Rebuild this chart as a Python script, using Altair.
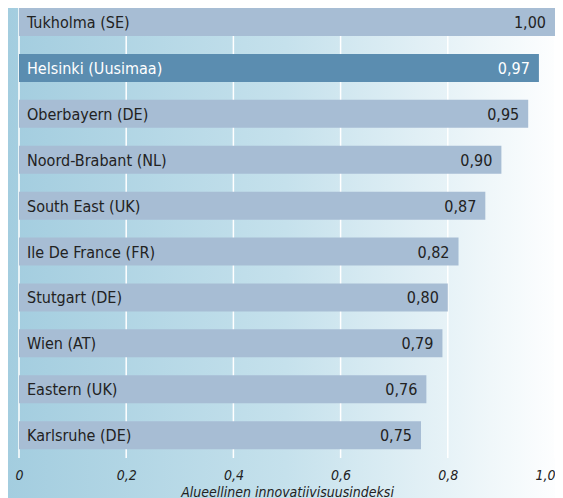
import altair as alt
import pandas as pd

regions = ["Tukholma (SE)", "Helsinki (Uusimaa)", "Oberbayern (DE)", "Noord-Brabant (NL)",
           "South East (UK)", "Ile De France (FR)", "Stutgart (DE)", "Wien (AT)",
           "Eastern (UK)", "Karlsruhe (DE)"]
values = [1.00, 0.97, 0.95, 0.90, 0.87, 0.82, 0.80, 0.79, 0.76, 0.75]
value_labels = ["1,00", "0,97", "0,95", "0,90", "0,87", "0,82", "0,80", "0,79", "0,76", "0,75"]
highlight = "Helsinki (Uusimaa)"
grid_ticks = [0, 0.2, 0.4, 0.6, 0.8, 1.0]
axis_title = "Alueellinen innovatiivisuusindeksi"

FONT = "DejaVu Sans Condensed, DejaVu Sans, sans-serif"
W, H = 536, 452

df = pd.DataFrame({
    "region": regions,
    "value": values,
    "label": value_labels,
    "hl": [r == highlight for r in regions],
})
grid_df = pd.DataFrame({"tick": grid_ticks})

gradient = alt.LinearGradient(
    gradient="linear", x1=0, x2=1, y1=0, y2=0,
    stops=[alt.GradientStop(offset=0, color="#a3cddf"),
           alt.GradientStop(offset=0.5, color="#c5e1ec"),
           alt.GradientStop(offset=1, color="#ffffff")],
)

bg = alt.Chart(pd.DataFrame({"a": [0]})).mark_rect(color=gradient).encode(
    x=alt.value(-12), x2=alt.value(W + 10), y=alt.value(-8), y2=alt.value(H + 50)
)

grid = alt.Chart(grid_df).mark_rule(color="white", strokeWidth=1.5).encode(
    x=alt.X("tick:Q"), y=alt.value(-8), y2=alt.value(H - 2)
)

yenc = alt.Y("region:N", sort=regions, axis=None,
             scale=alt.Scale(paddingInner=0.39, paddingOuter=0.118, align=0))

xenc = alt.X(
    "value:Q",
    scale=alt.Scale(domain=[0, 1], nice=False),
    axis=alt.Axis(
        values=grid_ticks, grid=False, domain=False, ticks=False, zindex=2,
        labelExpr="datum.value == 0 ? '0' : replace(format(datum.value, '.1f'), '.', ',')",
        labelFont=FONT, labelFontSize=14, labelFontStyle="italic", labelColor="#222222",
        labelPadding=8,
        labelAlign={"condition": {"test": "datum.value == 1", "value": "right"}, "value": "center"},
        title=axis_title, titleFont=FONT, titleFontSize=14, titleFontStyle="italic",
        titleFontWeight="normal", titleColor="#222222", titlePadding=3,
    ),
)

bars = alt.Chart(df).mark_bar().encode(
    x=xenc,
    y=yenc,
    color=alt.condition(alt.datum.hl, alt.value("#5b8db0"), alt.value("#a7bdd4")),
)

names = alt.Chart(df).mark_text(align="left", baseline="middle", font=FONT, fontSize=16, dy=1).encode(
    x=alt.value(8),
    y=yenc,
    text="region:N",
    color=alt.condition(alt.datum.hl, alt.value("#ffffff"), alt.value("#222222")),
)

nums = alt.Chart(df).mark_text(align="right", baseline="middle", font=FONT, fontSize=16, dx=-9, dy=1).encode(
    x=alt.X("value:Q"),
    y=yenc,
    text="label:N",
    color=alt.condition(alt.datum.hl, alt.value("#ffffff"), alt.value("#222222")),
)

chart = alt.layer(bg, grid, bars, names, nums).properties(
    width=W, height=H,
    autosize=alt.AutoSizeParams(type="none"),
    padding={"left": 11, "top": 0, "right": 0, "bottom": 38},
).configure_view(stroke=None)

chart.save("out.html", embed_options={"renderer": "svg", "actions": False})
